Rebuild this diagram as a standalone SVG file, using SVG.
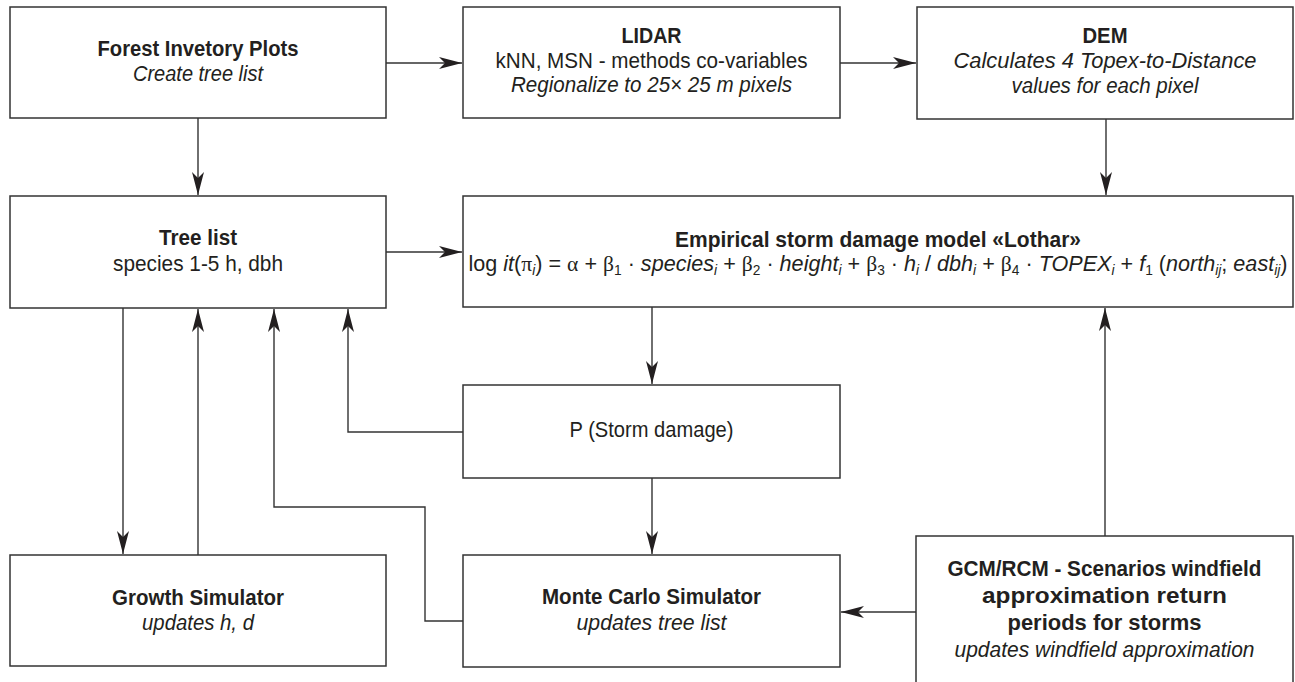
<svg xmlns="http://www.w3.org/2000/svg" width="1295" height="682" viewBox="0 0 1295 682">
<defs>
<style>
.box{fill:#fff;stroke:#333;stroke-width:1.5}
.t{font-family:"Liberation Sans",Arial,sans-serif;font-size:22px;fill:#231f20;text-anchor:middle}
.b{font-weight:bold}
.i{font-style:italic}
.g{font-family:"Liberation Serif","Times New Roman",serif}
.c{fill:none;stroke:#333;stroke-width:1.4}
</style>
<marker id="ah" markerUnits="userSpaceOnUse" markerWidth="23" markerHeight="12" refX="23" refY="6" orient="auto">
<path d="M0,0 L23,6 L0,12 L6,6 Z" fill="#231f20"/>
</marker>
</defs>
<rect width="1295" height="682" fill="#fff"/>

<g id="connectors">
<path class="c" d="M386,63 H462" marker-end="url(#ah)"/>
<path class="c" d="M840,63 H916" marker-end="url(#ah)"/>
<path class="c" d="M198,118 V195" marker-end="url(#ah)"/>
<path class="c" d="M1106,119 V195" marker-end="url(#ah)"/>
<path class="c" d="M386,252 H462" marker-end="url(#ah)"/>
<path class="c" d="M652,307 V384" marker-end="url(#ah)"/>
<path class="c" d="M652,478 V554" marker-end="url(#ah)"/>
<path class="c" d="M123,308 V554" marker-end="url(#ah)"/>
<path class="c" d="M198,555 V309" marker-end="url(#ah)"/>
<path class="c" d="M463,432 H348 V309" marker-end="url(#ah)"/>
<path class="c" d="M463,621 H425 V507 H274 V309" marker-end="url(#ah)"/>
<path class="c" d="M1105,536 V308" marker-end="url(#ah)"/>
<path class="c" d="M916,612 H841" marker-end="url(#ah)"/>
</g>

<g id="forest">
<rect class="box" x="10" y="7" width="376" height="111"/>
<text class="t b" x="198" y="56" textLength="201" lengthAdjust="spacingAndGlyphs">Forest Invetory Plots</text>
<text class="t i" x="198" y="81" textLength="130" lengthAdjust="spacingAndGlyphs">Create tree list</text>
</g>

<g id="lidar">
<rect class="box" x="463" y="7" width="377" height="111"/>
<text class="t b" x="651.5" y="43" textLength="60" lengthAdjust="spacingAndGlyphs">LIDAR</text>
<text class="t" x="651.5" y="68" textLength="312" lengthAdjust="spacingAndGlyphs">kNN, MSN - methods co-variables</text>
<text class="t i" x="651.5" y="92" textLength="281" lengthAdjust="spacingAndGlyphs">Regionalize to 25× 25 m pixels</text>
</g>

<g id="dem">
<rect class="box" x="917" y="7" width="376" height="112"/>
<text class="t b" x="1105" y="43" textLength="45" lengthAdjust="spacingAndGlyphs">DEM</text>
<text class="t i" x="1105" y="68" textLength="303" lengthAdjust="spacingAndGlyphs">Calculates 4 Topex-to-Distance</text>
<text class="t i" x="1105" y="93" textLength="187" lengthAdjust="spacingAndGlyphs">values for each pixel</text>
</g>

<g id="treelist">
<rect class="box" x="10" y="196" width="376" height="112"/>
<text class="t b" x="198" y="245" textLength="78" lengthAdjust="spacingAndGlyphs">Tree list</text>
<text class="t" x="198" y="271" textLength="170" lengthAdjust="spacingAndGlyphs">species 1-5 h, dbh</text>
</g>

<g id="model">
<rect class="box" x="463" y="196" width="830" height="111"/>
<text class="t b" x="878" y="247" textLength="406" lengthAdjust="spacingAndGlyphs">Empirical storm damage model «Lothar»</text>
<text class="t" x="878" y="271" textLength="819" lengthAdjust="spacingAndGlyphs">log <tspan class="i">it</tspan>(<tspan class="g">π</tspan><tspan class="i" font-size="14" dy="4">i</tspan><tspan dy="-4">) = </tspan><tspan class="g">α</tspan> + <tspan class="g">β</tspan><tspan font-size="14" dy="4">1</tspan><tspan dy="-4"> · </tspan><tspan class="i">species</tspan><tspan class="i" font-size="14" dy="4">i</tspan><tspan dy="-4"> + </tspan><tspan class="g">β</tspan><tspan font-size="14" dy="4">2</tspan><tspan dy="-4"> · </tspan><tspan class="i">height</tspan><tspan class="i" font-size="14" dy="4">i</tspan><tspan dy="-4"> + </tspan><tspan class="g">β</tspan><tspan font-size="14" dy="4">3</tspan><tspan dy="-4"> · </tspan><tspan class="i">h</tspan><tspan class="i" font-size="14" dy="4">i</tspan><tspan dy="-4"> / </tspan><tspan class="i">dbh</tspan><tspan class="i" font-size="14" dy="4">i</tspan><tspan dy="-4"> + </tspan><tspan class="g">β</tspan><tspan font-size="14" dy="4">4</tspan><tspan dy="-4"> · </tspan><tspan class="i">TOPEX</tspan><tspan class="i" font-size="14" dy="4">i</tspan><tspan dy="-4"> + </tspan><tspan class="i">f</tspan><tspan font-size="14" dy="4">1</tspan><tspan dy="-4"> (</tspan><tspan class="i">north</tspan><tspan class="i" font-size="14" dy="4">ij</tspan><tspan dy="-4">; </tspan><tspan class="i">east</tspan><tspan class="i" font-size="14" dy="4">ij</tspan><tspan dy="-4">)</tspan></text>
</g>

<g id="pdamage">
<rect class="box" x="463" y="385" width="377" height="93"/>
<text class="t" x="651.5" y="437" textLength="164" lengthAdjust="spacingAndGlyphs">P (Storm damage)</text>
</g>

<g id="growth">
<rect class="box" x="10" y="555" width="376" height="111"/>
<text class="t b" x="198" y="605" textLength="172" lengthAdjust="spacingAndGlyphs">Growth Simulator</text>
<text class="t i" x="198" y="630" textLength="112" lengthAdjust="spacingAndGlyphs">updates h, d</text>
</g>

<g id="montecarlo">
<rect class="box" x="463" y="555" width="377" height="112"/>
<text class="t b" x="651.5" y="604" textLength="219" lengthAdjust="spacingAndGlyphs">Monte Carlo Simulator</text>
<text class="t i" x="651.5" y="630" textLength="150" lengthAdjust="spacingAndGlyphs">updates tree list</text>
</g>

<g id="gcm">
<rect class="box" x="916" y="536" width="377" height="160"/>
<text class="t b" x="1104.5" y="576" textLength="314" lengthAdjust="spacingAndGlyphs">GCM/RCM - Scenarios windfield</text>
<text class="t b" x="1104.5" y="603" textLength="245" lengthAdjust="spacingAndGlyphs">approximation return</text>
<text class="t b" x="1104.5" y="630" textLength="194" lengthAdjust="spacingAndGlyphs">periods for storms</text>
<text class="t i" x="1104.5" y="657" textLength="300" lengthAdjust="spacingAndGlyphs">updates windfield approximation</text>
</g>
</svg>
